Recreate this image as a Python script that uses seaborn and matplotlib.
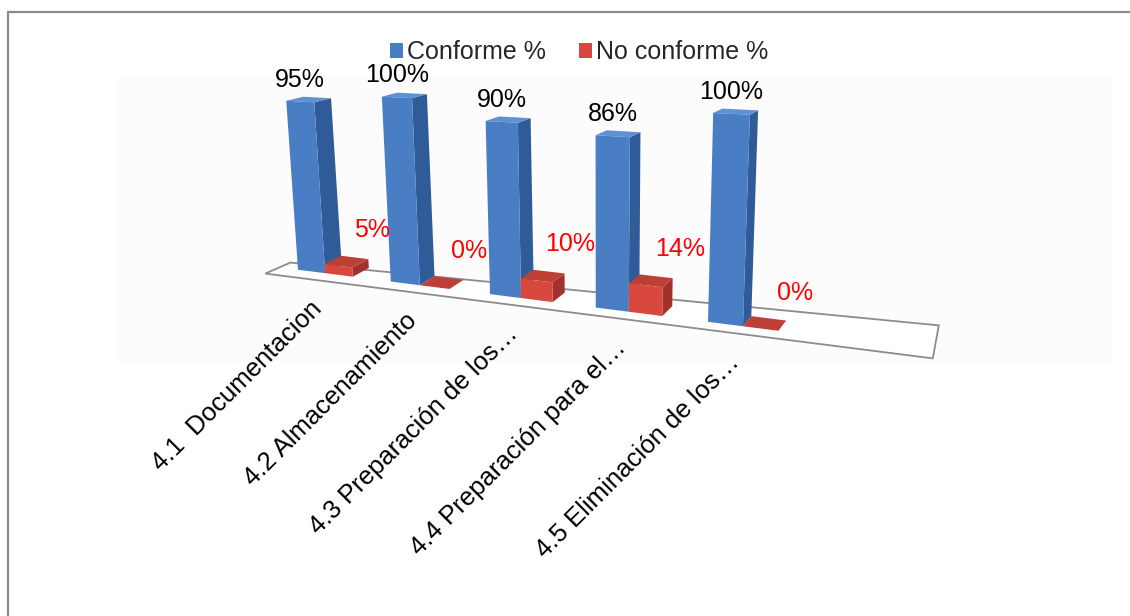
import numpy as np
import pandas as pd
import matplotlib
matplotlib.use("Agg")
import matplotlib.pyplot as plt
import matplotlib.transforms as mtransforms
from matplotlib.patches import Polygon, Rectangle
from matplotlib.lines import Line2D
import seaborn as sns

# ---- data ----
categorias = [
    "4.1  Documentacion",
    "4.2 Almacenamiento",
    "4.3 Preparación de los…",
    "4.4 Preparación para el…",
    "4.5 Eliminación de los…",
]
conforme = [95, 100, 90, 86, 100]
no_conforme = [5, 0, 10, 14, 0]
series = ["Conforme %", "No conforme %"]

df = pd.DataFrame({
    "categoria": categorias * 2,
    "valor": conforme + no_conforme,
    "serie": [series[0]] * len(categorias) + [series[1]] * len(categorias),
})

# ---- style ----
sns.set_style("white")
plt.rcParams["font.family"] = ["Liberation Sans", "DejaVu Sans"]

W, H = 1130, 616
AZUL = "#4A7EC4"
AZUL_LADO = "#2F5C98"
AZUL_TAPA = "#5F90D2"
ROJO = "#D8483E"
ROJO_LADO = "#A3312B"
ROJO_TAPA = "#BE3F36"


def proyectar(u, v):
    """Oblique/perspective view of the (category, percent) plane, in pixels."""
    u = np.asarray(u, float)
    v = np.asarray(v, float)
    t = u + 0.3
    x0 = 298 + 89.5 * t + 3.25 * t ** 2
    base = 270 + 0.127 * (x0 - 300)
    escala = 1.78 + 0.000756 * (x0 - 300)
    h = escala * v
    px = x0 - (600 - x0) * 2.3e-4 * h
    py = base - h
    return px, py


def profundidad(px, py):
    dx = 17 - 8 * (px - 300) / 410
    dy = -(4 + 0.027 * np.maximum(py - 100, 0))
    return dx, dy


class Perspectiva(mtransforms.Transform):
    input_dims = 2
    output_dims = 2
    is_separable = False
    has_inverse = False

    def transform_non_affine(self, values):
        values = np.asarray(values, float).reshape(-1, 2)
        px, py = proyectar(values[:, 0], values[:, 1])
        return np.column_stack([px / W, 1 - py / H])


def frac(pts):
    return [(x / W, 1 - y / H) for x, y in pts]


fig = plt.figure(figsize=(W / 100, H / 100), dpi=100)
ax = fig.add_axes([0, 0, 1, 1])
ax.axis("off")
persp = Perspectiva() + fig.transFigure

# frame and plot-area tint
fig.add_artist(Rectangle((117 / W, 1 - 362 / H), (1113 - 117) / W, (362 - 77) / H,
                         transform=fig.transFigure, facecolor="#fcfcfc",
                         edgecolor="none", zorder=0))
fig.add_artist(Line2D([8 / W, 1.0], [1 - 12 / H, 1 - 12 / H], transform=fig.transFigure,
                      color="#8a8a8a", lw=1.6))
fig.add_artist(Line2D([8 / W, 8 / W], [1 - 12 / H, 0], transform=fig.transFigure,
                      color="#8a8a8a", lw=1.6))

sns.barplot(data=df, x="categoria", y="valor", hue="serie", order=categorias,
            hue_order=series, palette=[AZUL, ROJO], width=0.6, saturation=1,
            linewidth=0, ax=ax)

# floor of the 3-D plot
fl = np.array(proyectar([-0.67, 5.55], [0, 0])).T + np.array([0, 8])
piso = [tuple(fl[0]), tuple(fl[1]), (fl[1][0] + 6, fl[1][1] - 33), (fl[0][0] + 25, fl[0][1] - 11)]
ax.add_patch(Polygon(frac(piso), closed=True, transform=fig.transFigure,
                     facecolor="white", edgecolor="#8c8c8c", lw=1.3, zorder=1,
                     clip_on=False))

colores = [(AZUL_LADO, AZUL_TAPA), (ROJO_LADO, ROJO_TAPA)]
for k, cont in enumerate(ax.containers):
    lado, tapa = colores[k]
    z = 2 + k
    for bar in cont:
        x0, w, h = bar.get_x(), bar.get_width(), bar.get_height()
        bar.set_transform(persp)
        bar.set_clip_on(False)
        bar.set_zorder(z + 0.2)
        A = np.array(proyectar(x0, h), float)
        C = np.array(proyectar(x0 + w, h), float)
        B = np.array(proyectar(x0 + w, 0), float)
        dA, dC, dB = (np.array(profundidad(*p)) for p in (A, C, B))
        side = [B, C, C + dC, B + dB]
        top = [A, C, C + dC, A + dA]
        ax.add_patch(Polygon(frac(side), closed=True, transform=fig.transFigure,
                             facecolor=lado, edgecolor="none", zorder=z, clip_on=False))
        ax.add_patch(Polygon(frac(top), closed=True, transform=fig.transFigure,
                             facecolor=tapa, edgecolor="none", zorder=z + 0.1, clip_on=False))

# value labels
for i, v in enumerate(conforme):
    ax.annotate(f"{v}%", xy=(i - 0.15, v), xycoords=persp, xytext=(0, 22),
                textcoords="offset pixels", ha="center", va="center", fontsize=18,
                color="black", annotation_clip=False, zorder=6)
for i, v in enumerate(no_conforme):
    ax.annotate(f"{v}%", xy=(i + 0.15, v), xycoords=persp, xytext=(34, 36),
                textcoords="offset pixels", ha="center", va="center", fontsize=18,
                color="#FF0000", annotation_clip=False, zorder=6)

# category labels along the front edge
for i, cat in enumerate(categorias):
    ax.annotate(cat, xy=(i, 0), xycoords=persp, xytext=(-2, -37),
                textcoords="offset pixels", rotation=45, rotation_mode="anchor",
                ha="right", va="baseline", fontsize=18.5, color="black",
                annotation_clip=False)

sns.move_legend(ax, "center", bbox_to_anchor=(579 / W, 1 - 52 / H), ncol=2,
                frameon=False, title=None, fontsize=18, handlelength=0.55,
                handleheight=0.55, handletextpad=0.15, columnspacing=1.3,
                borderpad=0, borderaxespad=0)

fig.savefig("out.png", dpi=100)
